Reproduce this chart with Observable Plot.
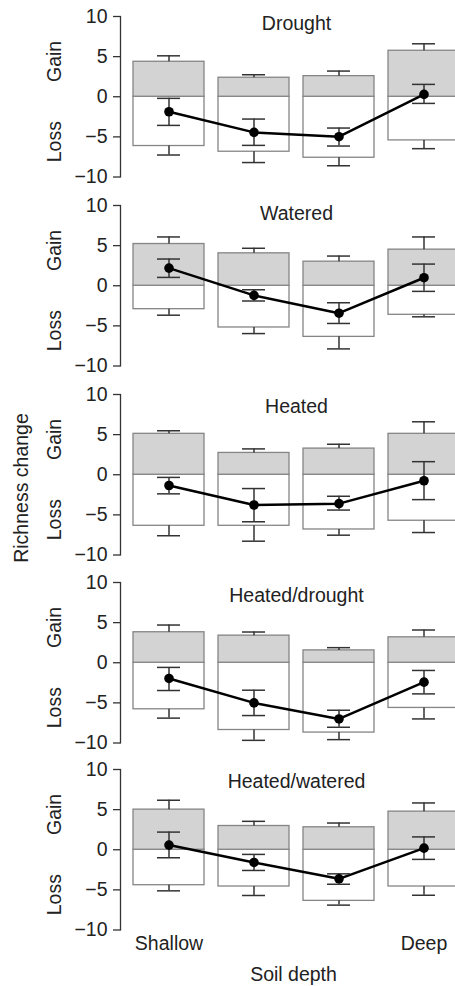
<!DOCTYPE html>
<html>
<head>
<meta charset="utf-8">
<script src="https://cdn.jsdelivr.net/npm/d3@7"></script>
<script src="https://cdn.jsdelivr.net/npm/@observablehq/plot@0.6"></script>
<style>
  html, body { margin: 0; padding: 0; background: white; }
  #wrap { position: relative; width: 455px; height: 986px; overflow: hidden; font-family: "Liberation Sans", Arial, sans-serif; color: #222; }
  .panel { position: absolute; left: 0; }
  #ylab { position: absolute; left: 21px; top: 488px; transform: translate(-50%, -50%) rotate(-90deg); white-space: nowrap; font-size: 19.5px; }
</style>
</head>
<body>
<div id="wrap"><div id="ylab">Richness change</div></div>
<script>
// ---- data ----
const panels = ["Drought", "Watered", "Heated", "Heated/drought", "Heated/watered"];
const depths = ["d1", "d2", "d3", "d4"];
const depthLabels = ["Shallow", "", "", "Deep"];
const yTicks = [-10, -5, 0, 5, 10];
const sideLabels = ["Gain", "Loss"];

const gain = [[4.36, 2.37, 2.57, 5.73], [5.2, 4.04, 3.0, 4.5], [5.1, 2.72, 3.26, 5.1], [3.8, 3.38, 1.54, 3.17], [5.0, 2.96, 2.8, 4.75]];
const gainUpper = [[5.1, 2.74, 3.2, 6.6], [6.08, 4.67, 3.7, 6.08], [5.48, 3.22, 3.8, 6.6], [4.7, 3.83, 1.88, 4.08], [6.17, 3.54, 3.33, 5.83]];
const loss = [[-6.14, -6.85, -7.6, -5.44], [-2.92, -5.2, -6.37, -3.62], [-6.36, -6.36, -6.82, -5.73], [-5.8, -8.38, -8.7, -5.63], [-4.42, -4.58, -6.37, -4.58]];
const lossLower = [[-7.26, -8.2, -8.6, -6.47], [-3.67, -5.96, -7.87, -3.87], [-7.6, -8.28, -7.53, -7.2], [-6.9, -9.67, -9.58, -7.0], [-5.12, -5.7, -6.9, -5.67]];
const net = [[-1.87, -4.44, -4.98, 0.29], [2.2, -1.2, -3.42, 1.0], [-1.34, -3.77, -3.6, -0.75], [-1.96, -5.0, -7.0, -2.42], [0.58, -1.58, -3.62, 0.2]];
const netUpper = [[-0.2, -2.78, -3.9, 1.54], [3.33, -0.5, -2.12, 2.7], [-0.33, -1.72, -2.68, 1.63], [-0.58, -3.42, -5.92, -0.96], [2.2, -0.58, -3.0, 1.6]];
const netLower = [[-3.57, -6.06, -6.14, -0.83], [1.04, -1.9, -4.7, -0.7], [-2.38, -5.86, -4.4, -3.1], [-3.46, -6.58, -8.04, -3.88], [-1.0, -2.58, -4.3, -1.2]];

// ---- layout ----
const panelTop = [16, 205, 393.5, 581.7, 769];
const titleDy = [7, 8.5, 12, 13.5, 12.5];
const frameH = 160.5;
const mt = 20;
const font = "'Liberation Sans', Arial, sans-serif";
const dark = "#333";
const fs = 19.5;
const wrap = document.getElementById("wrap");

panels.forEach((name, i) => {
  const last = i === panels.length - 1;
  const mb = last ? 57 : 13;
  const rows = depths.map((d, j) => ({
    depth: d,
    gain: gain[i][j], gainUpper: gainUpper[i][j],
    loss: loss[i][j], lossLower: lossLower[i][j],
    net: net[i][j], netUpper: netUpper[i][j], netLower: netLower[i][j]
  }));
  const marks = [
    Plot.barY(rows, {x: "depth", y1: 0, y2: "loss", fill: "white", stroke: "#858585", strokeWidth: 1.3}),
    Plot.barY(rows, {x: "depth", y1: 0, y2: "gain", fill: "#d3d3d3", stroke: "#858585", strokeWidth: 1.3}),
    Plot.ruleX(rows, {x: "depth", y1: "gain", y2: "gainUpper", stroke: dark, strokeWidth: 1.5}),
    Plot.tickY(rows, {x: "depth", y: "gainUpper", inset: 24, stroke: dark, strokeWidth: 1.5}),
    Plot.ruleX(rows, {x: "depth", y1: "loss", y2: "lossLower", stroke: dark, strokeWidth: 1.5}),
    Plot.tickY(rows, {x: "depth", y: "lossLower", inset: 24, stroke: dark, strokeWidth: 1.5}),
    Plot.line(rows, {x: "depth", y: "net", stroke: "black", strokeWidth: 2.5}),
    Plot.ruleX(rows, {x: "depth", y1: "netLower", y2: "netUpper", stroke: dark, strokeWidth: 1.5}),
    Plot.tickY(rows, {x: "depth", y: "netUpper", inset: 24, stroke: dark, strokeWidth: 1.5}),
    Plot.tickY(rows, {x: "depth", y: "netLower", inset: 24, stroke: dark, strokeWidth: 1.5}),
    Plot.dot(rows, {x: "depth", y: "net", r: 4.8, fill: "black", stroke: "none"}),
    Plot.frame({anchor: "left", stroke: dark, strokeWidth: 1.3}),
    Plot.axisY({ticks: yTicks, tickSize: 7, tickPadding: 6, stroke: dark, strokeWidth: 1.3, fill: "#222",
      tickFormat: d => d < 0 ? "\u2212" + (-d) : String(d), fontSize: fs, label: null}),
    Plot.text(sideLabels, {text: d => d, y: [4.4, -5.6], frameAnchor: "left", textAnchor: "middle", lineAnchor: "middle", dx: -66, rotate: -90, fontSize: fs, fill: "#222"}),
    Plot.text([name], {text: d => d, frameAnchor: "top", textAnchor: "middle", dx: 8.5, dy: titleDy[i], lineAnchor: "middle", fontSize: fs, fill: "#222"})
  ];
  if (last) {
    marks.push(Plot.axisX({tickSize: 0, tickPadding: 6, fontSize: fs, fill: "#222", label: null,
      tickFormat: d => depthLabels[depths.indexOf(d)]}));
    marks.push(Plot.text(["Soil depth"], {text: d => d, frameAnchor: "bottom", textAnchor: "middle", dx: 5.5, dy: 51, lineAnchor: "bottom", fontSize: fs, fill: "#222"}));
  }
  const svg = Plot.plot({
    width: 455,
    height: mt + frameH + mb,
    marginTop: mt, marginBottom: mb, marginLeft: 120, marginRight: 0,
    x: {type: "band", domain: depths, range: [120, 472], paddingInner: 0.165, paddingOuter: 0.153, axis: null},
    y: {domain: [-10, 10], axis: null},
    style: {fontFamily: font, fontSize: fs + "px", color: "#222", background: "transparent", overflow: "hidden"},
    marks
  });
  svg.classList.add("panel");
  svg.style.top = (panelTop[i] - mt) + "px";
  wrap.appendChild(svg);
});
</script>
</body>
</html>
